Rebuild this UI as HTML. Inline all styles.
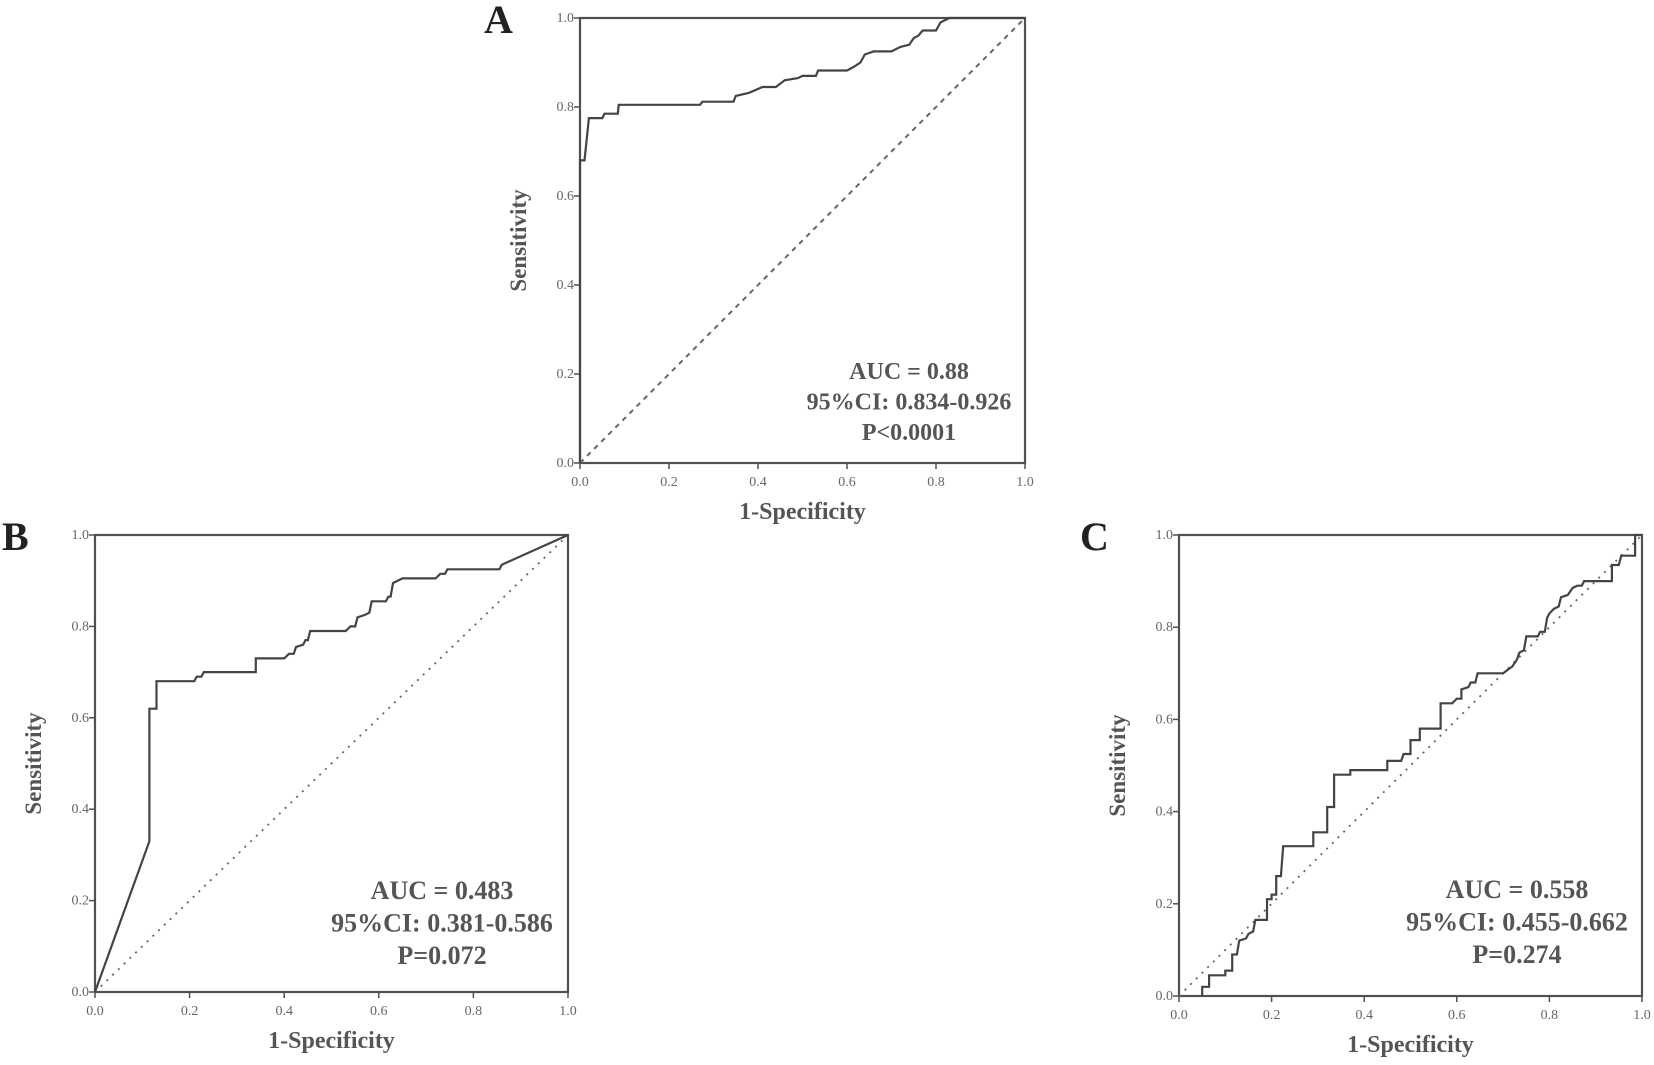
<!DOCTYPE html>
<html><head><meta charset="utf-8"><style>
html,body{margin:0;padding:0;background:#fff;}
svg{display:block;font-family:"Liberation Serif",serif;}
</style></head><body>
<svg id="fig" width="1654" height="1065" viewBox="0 0 1654 1065"></svg>
<script>
const ticks=[0,0.2,0.4,0.6,0.8,1.0];
const tickLabels=["0.0","0.2","0.4","0.6","0.8","1.0"];
const rocAx=[0,0,0.01,0.02,0.05,0.055,0.085,0.087,0.27,0.275,0.345,0.35,0.38,0.41,0.44,0.46,0.49,0.5,0.53,0.535,0.6,0.615,0.63,0.64,0.66,0.7,0.72,0.74,0.75,0.76,0.77,0.8,0.81,0.83,1];
const rocAy=[0,0.68,0.68,0.775,0.775,0.785,0.785,0.805,0.805,0.812,0.812,0.825,0.832,0.845,0.845,0.86,0.865,0.87,0.87,0.882,0.882,0.89,0.9,0.918,0.925,0.925,0.935,0.94,0.955,0.96,0.972,0.972,0.99,1,1];
const rocBx=[0,0.115,0.115,0.13,0.13,0.21,0.215,0.225,0.23,0.34,0.34,0.4,0.41,0.42,0.425,0.44,0.445,0.45,0.455,0.53,0.54,0.55,0.555,0.57,0.58,0.585,0.615,0.62,0.625,0.63,0.64,0.65,0.72,0.73,0.74,0.745,0.855,0.86,1];
const rocBy=[0,0.33,0.62,0.62,0.68,0.68,0.69,0.69,0.70,0.70,0.73,0.73,0.74,0.74,0.755,0.76,0.77,0.77,0.79,0.79,0.80,0.80,0.82,0.825,0.83,0.855,0.855,0.865,0.865,0.895,0.9,0.905,0.905,0.915,0.915,0.925,0.925,0.935,1];
const rocCx=[0.05,0.05,0.065,0.065,0.1,0.1,0.115,0.115,0.125,0.13,0.145,0.15,0.16,0.165,0.19,0.19,0.2,0.2,0.21,0.21,0.22,0.225,0.29,0.29,0.32,0.32,0.335,0.335,0.37,0.37,0.45,0.45,0.48,0.485,0.5,0.5,0.52,0.52,0.565,0.565,0.59,0.6,0.61,0.61,0.625,0.63,0.64,0.645,0.7,0.72,0.73,0.735,0.745,0.75,0.775,0.78,0.79,0.795,0.8,0.81,0.82,0.825,0.84,0.85,0.86,0.87,0.875,0.935,0.935,0.95,0.955,0.985,0.985,1];
const rocCy=[0,0.02,0.02,0.045,0.045,0.055,0.055,0.09,0.09,0.12,0.125,0.135,0.14,0.165,0.165,0.21,0.21,0.22,0.22,0.26,0.26,0.325,0.325,0.355,0.355,0.41,0.41,0.48,0.48,0.49,0.49,0.51,0.51,0.525,0.525,0.555,0.555,0.58,0.58,0.635,0.635,0.645,0.645,0.665,0.67,0.68,0.68,0.7,0.7,0.715,0.73,0.745,0.75,0.78,0.78,0.79,0.79,0.82,0.83,0.84,0.845,0.865,0.87,0.885,0.89,0.89,0.9,0.9,0.935,0.935,0.955,0.955,1,1];
const statsA=["AUC = 0.88","95%CI: 0.834-0.926","P<0.0001"];
const statsB=["AUC = 0.483","95%CI: 0.381-0.586","P=0.072"];
const statsC=["AUC = 0.558","95%CI: 0.455-0.662","P=0.274"];
const NS="http://www.w3.org/2000/svg";
const svg=document.getElementById('fig');
function mk(tag,attrs,parent,text){const e=document.createElementNS(NS,tag);for(const k in attrs)e.setAttribute(k,attrs[k]);if(text!==undefined)e.textContent=text;parent.appendChild(e);return e;}
const C='#505050';
function panel(id,letter,box,xs,ys,stats,statX,statY,statFs,statGap,letterPos,diagDash,diagW){
  const [x0,x1,yT,yB]=box;
  const sx=v=>x0+v*(x1-x0), sy=v=>yB-v*(yB-yT);
  const g=mk('g',{},svg);
  
  
  const L=mk('text',{x:letterPos[0],y:letterPos[1],'font-size':40,'font-weight':'bold',fill:'#222'},g,letter);
  
  
  const fr=mk('rect',{x:x0,y:yT,width:x1-x0,height:yB-yT,fill:'none',stroke:C,'stroke-width':2.2},g);
  
  
  ticks.forEach((t,i)=>{
    mk('line',{x1:sx(t),x2:sx(t),y1:yB,y2:yB+6,stroke:C,'stroke-width':1.5},g);
    const tx=mk('text',{x:sx(t),y:yB+23,'font-size':14,'text-anchor':'middle',fill:'#666'},g,tickLabels[i]);
    
    
    mk('line',{x1:x0-6,x2:x0,y1:sy(t),y2:sy(t),stroke:C,'stroke-width':1.5},g);
    const ty=mk('text',{x:x0-6,y:sy(t)+4,'font-size':14,'text-anchor':'end',fill:'#666'},g,tickLabels[i]);
    
    
  });
  const xt=mk('text',{x:(x0+x1)/2,y:yB+56,'font-size':24,'font-weight':'bold','text-anchor':'middle',fill:'#555'},g,'1-Specificity');
  
  
  const yc=(yT+yB)/2, yx=x0-54;
  const yt=mk('text',{x:yx,y:yc,'font-size':23,'font-weight':'bold','text-anchor':'middle',fill:'#555',transform:`rotate(-90 ${yx} ${yc})`},g,'Sensitivity');
  
  
  const dg=mk('line',{x1:sx(0),y1:sy(0),x2:sx(1),y2:sy(1),stroke:'#666','stroke-width':diagW,'stroke-dasharray':diagDash},g);
  
  
  const pts=xs.map((x,i)=>sx(x).toFixed(1)+','+sy(ys[i]).toFixed(1)).join(' ');
  const pl=mk('polyline',{points:pts,fill:'none',stroke:'#444','stroke-width':2.2},g);
  
  
  stats.forEach((s,i)=>{
    const st=mk('text',{x:statX,y:statY+i*statGap,'font-size':statFs,'font-weight':'bold','text-anchor':'middle',fill:'#555'},g,s);
    
    
  });
}
panel('a','A',[580,1025,18,463],rocAx,rocAy,statsA,909,379,24,30.5,[484,33],'5,5',2);
panel('b','B',[95,568,535,992],rocBx,rocBy,statsB,442,899,26,32.5,[2,550],'2,6',1.8);
panel('c','C',[1179,1642,535,996],rocCx,rocCy,statsC,1517,898,26,32.5,[1080,550],'2,6',1.8);
</script>
</body></html>
